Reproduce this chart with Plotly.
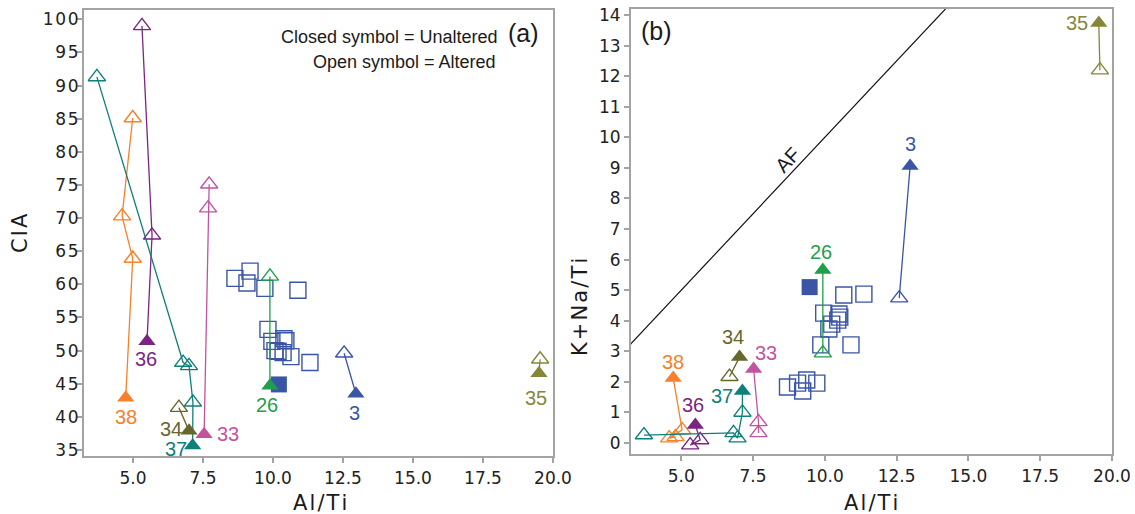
import plotly.graph_objects as go

W, H = 1135, 514

# ---------------- data ----------------
# Each sample: first point = unaltered (closed), rest = altered (open)
samples = ["38", "36", "37", "34", "33", "26", "3", "35"]
colors = {"38": "#f5812a", "36": "#7a2582", "37": "#0f7f79", "34": "#65672c",
          "33": "#c2539f", "26": "#1f9e4b", "3": "#3a55a5", "35": "#86863a"}

# panel (a): Al/Ti vs CIA
a_x = {"38": [4.74, 4.99, 4.61, 4.99], "36": [5.50, 5.68, 5.32],
       "37": [7.13, 7.14, 7.00, 6.79, 3.71], "34": [7.00, 6.64],
       "33": [7.54, 7.68, 7.72], "26": [9.89, 9.89], "3": [12.96, 12.54],
       "35": [19.50, 19.54]}
a_y = {"38": [42.9, 63.9, 70.3, 85.1], "36": [51.4, 67.4, 99.0],
       "37": [35.7, 42.2, 47.7, 48.2, 91.3], "34": [37.9, 41.4],
       "33": [37.4, 71.5, 75.1], "26": [44.7, 61.2], "3": [43.5, 49.6],
       "35": [46.6, 48.7]}
# panel (b): Al/Ti vs K+Na/Ti
b_x = {"38": [4.72, 5.03, 4.58, 4.80], "36": [5.49, 5.66, 5.31],
       "37": [7.13, 7.13, 6.96, 6.82, 3.70], "34": [7.03, 6.68],
       "33": [7.52, 7.69, 7.69], "26": [9.93, 9.93], "3": [12.97, 12.59],
       "35": [19.54, 19.58]}
b_y = {"38": [2.13, 0.43, 0.16, 0.20], "36": [0.59, 0.10, -0.07],
       "37": [1.70, 1.00, 0.16, 0.33, 0.26], "34": [2.81, 2.17],
       "33": [2.42, 0.69, 0.33], "26": [5.66, 2.94], "3": [9.06, 4.74],
       "35": [13.74, 12.20]}

# blue square samples (no label)
sq_a_closed_x = [10.21]
sq_a_closed_y = [44.9]
sq_a_open_x = [8.64, 9.18, 9.07, 9.71, 10.89, 9.82, 9.96, 10.39, 10.46, 10.18, 10.07, 10.36, 10.64, 11.32]
sq_a_open_y = [60.9, 62.0, 60.2, 59.4, 59.1, 53.2, 51.4, 51.8, 51.5, 49.9, 50.0, 49.7, 49.1, 48.2]
sq_b_closed_x = [9.47]
sq_b_closed_y = [5.10]
sq_b_open_x = [10.66, 11.36, 9.96, 10.49, 10.52, 10.45, 10.24, 10.14, 9.86, 10.91, 8.70, 9.05, 9.37, 9.72, 9.23]
sq_b_open_y = [4.84, 4.87, 4.25, 4.22, 4.12, 4.02, 3.89, 3.73, 3.21, 3.21, 1.83, 1.96, 2.06, 1.96, 1.70]

# AF line (K+Na = Al)
af_x = [0, 20]
af_y = [0, 20]

x_ticks = [5.0, 7.5, 10.0, 12.5, 15.0, 17.5, 20.0]
cia_ticks = list(range(35, 101, 5))
kna_ticks = list(range(0, 15))

# label offsets (pixels) relative to closed point
lab_a = {"38": (0, -19), "36": (-1, -18), "34": (-18, 2), "37": (-17, -4),
         "33": (24, 0), "26": (-3, -19), "3": (-1, -19), "35": (-3, -25)}
lab_b = {"38": (0, 16), "36": (-2, 20), "34": (-7, 20), "37": (-20, -5),
         "33": (12, 16), "26": (-2, 18), "3": (0, 22), "35": (-22, 0)}

# ---------------- figure ----------------
fig = go.Figure()
MS = 15
LW = 1.4
BLUE = colors["3"]

def add_group(xs, ys, col, xa, ya):
    fig.add_trace(go.Scatter(x=xs, y=ys, mode="lines", line=dict(color=col, width=1.3),
                             xaxis=xa, yaxis=ya, showlegend=False, hoverinfo="skip"))
    fig.add_trace(go.Scatter(x=xs[1:], y=ys[1:], mode="markers",
                             marker=dict(symbol="triangle-up-open", size=MS, color=col,
                                         line=dict(width=LW, color=col)),
                             xaxis=xa, yaxis=ya, showlegend=False))
    fig.add_trace(go.Scatter(x=xs[:1], y=ys[:1], mode="markers",
                             marker=dict(symbol="triangle-up", size=MS, color=col,
                                         line=dict(width=0)),
                             xaxis=xa, yaxis=ya, showlegend=False))

# AF line
fig.add_trace(go.Scatter(x=af_x, y=af_y, mode="lines", line=dict(color="#111111", width=1.2),
                         xaxis="x2", yaxis="y2", showlegend=False, hoverinfo="skip"))

# squares
for xs, ys, xa, ya in [(sq_a_open_x, sq_a_open_y, "x", "y"), (sq_b_open_x, sq_b_open_y, "x2", "y2")]:
    fig.add_trace(go.Scatter(x=xs, y=ys, mode="markers",
                             marker=dict(symbol="square-open", size=16, color=BLUE,
                                         line=dict(width=LW, color=BLUE)),
                             xaxis=xa, yaxis=ya, showlegend=False))
for xs, ys, xa, ya in [(sq_a_closed_x, sq_a_closed_y, "x", "y"), (sq_b_closed_x, sq_b_closed_y, "x2", "y2")]:
    fig.add_trace(go.Scatter(x=xs, y=ys, mode="markers",
                             marker=dict(symbol="square", size=16, color=BLUE, line=dict(width=0)),
                             xaxis=xa, yaxis=ya, showlegend=False))

for s in samples:
    add_group(a_x[s], a_y[s], colors[s], "x", "y")
    add_group(b_x[s], b_y[s], colors[s], "x2", "y2")

annotations = []
LAB_FONT = "Liberation Sans, Arial, sans-serif"
for s in samples:
    dx, dy = lab_a[s]
    annotations.append(dict(x=a_x[s][0], y=a_y[s][0], xref="x", yref="y", text=s, showarrow=False,
                            xshift=dx, yshift=dy, font=dict(family=LAB_FONT, size=20, color=colors[s])))
    dx, dy = lab_b[s]
    annotations.append(dict(x=b_x[s][0], y=b_y[s][0], xref="x2", yref="y2", text=s, showarrow=False,
                            xshift=dx, yshift=dy, font=dict(family=LAB_FONT, size=20, color=colors[s])))

def px(xp, yp):
    return xp / W, 1 - yp / H

TXT = "#1a1a1a"
for text, (xp, yp), size in [("Closed symbol = Unaltered", (389.5, 37), 18),
                             ("Open symbol = Altered", (404.5, 62), 18),
                             ("(a)", (523, 33), 25),
                             ("(b)", (656, 31), 25)]:
    xx, yy = px(xp, yp)
    annotations.append(dict(x=xx, y=yy, xref="paper", yref="paper", text=text, showarrow=False,
                            xanchor="center", yanchor="middle",
                            font=dict(family=LAB_FONT, size=size, color=TXT)))

# AF label
annotations.append(dict(x=8.7, y=9.26, xref="x2", yref="y2", text="AF", showarrow=False,
                        textangle=-47, font=dict(family=LAB_FONT, size=20, color=TXT)))

HS = "\u200a"  # hair space for the wide lettering of the original
def spaced(t, sep=HS):
    return sep.join(list(t))

# axis titles
TFONT = "DejaVu Sans, sans-serif"
for text, (xp, yp), ang in [("CIA", (20, 233), -90), ("K+Na/Ti", (580, 307), -90),
                            ("Al/Ti", (320, 503), 0), ("Al/Ti", (871, 503), 0)]:
    xx, yy = px(xp, yp)
    annotations.append(dict(x=xx, y=yy, xref="paper", yref="paper", text=spaced(text),
                            showarrow=False, xanchor="center", yanchor="middle", textangle=ang,
                            font=dict(family=TFONT, size=21, color=TXT)))

ax_common = dict(showline=True, linecolor="#a3a3a3", linewidth=2, mirror=True,
                 ticks="outside", ticklen=5, tickwidth=1.5, tickcolor="#a3a3a3",
                 showgrid=False, zeroline=False, automargin=False,
                 tickfont=dict(family=TFONT, size=17, color="#222222"))

top, bot = 10, 456
ydom = [1 - bot / H, 1 - top / H]

fig.update_layout(
    width=W, height=H,
    margin=dict(l=0, r=0, t=0, b=0),
    paper_bgcolor="white", plot_bgcolor="white",
    showlegend=False,
    xaxis=dict(domain=[84 / W, 553 / W], range=[3.25, 20.0], tickvals=x_ticks,
               ticktext=[f"{v:.1f}" for v in x_ticks], anchor="y", ticklabelstandoff=1,
               **ax_common),
    yaxis=dict(domain=ydom, range=[34.1, 101.4], tickvals=cia_ticks,
               ticktext=[spaced(str(v), "\u200a") for v in cia_ticks], anchor="x",
               ticklabelstandoff=-5, **ax_common),
    xaxis2=dict(domain=[631 / W, 1112 / W], range=[3.25, 20.0], tickvals=x_ticks,
                ticktext=[f"{v:.1f}" for v in x_ticks], anchor="y2", ticklabelstandoff=1,
                **ax_common),
    yaxis2=dict(domain=[1 - 454 / H, 1 - 9 / H], range=[-0.36, 14.2], tickvals=kna_ticks,
                anchor="x2", **ax_common),
    annotations=annotations,
)

fig.write_html("out.html")
